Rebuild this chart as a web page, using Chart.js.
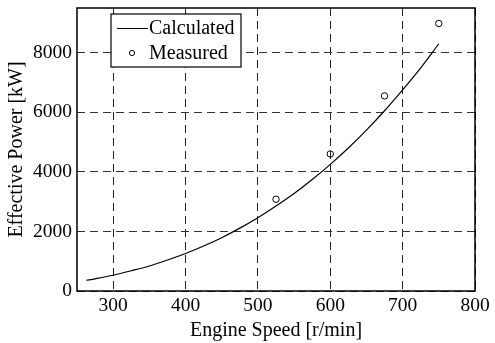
<!DOCTYPE html>
<html>
<head>
<meta charset="utf-8">
<script src="https://cdn.jsdelivr.net/npm/chart.js@4/dist/chart.umd.min.js"></script>
<style>
  html, body { margin: 0; padding: 0; background: #fff; }
  #wrap { width: 495px; height: 343px; }
</style>
</head>
<body>
<div id="wrap"><canvas id="powerChart"></canvas></div>
<script>
// engine speed [r/min] and calculated power [kW]
const calcSpeed = [263, 275, 300, 325, 350, 375, 400, 425, 450, 475, 500, 525, 550, 575, 600, 625, 650, 675, 700, 725, 750];
const calcPower = [360, 410, 530, 680, 840, 1040, 1260, 1510, 1790, 2110, 2460, 2850, 3270, 3740, 4250, 4800, 5400, 6050, 6750, 7490, 8300];

// measured points
const measSpeed = [525, 600, 675, 750];
const measPower = [3080, 4600, 6550, 8980];

const xTicks = [300, 400, 500, 600, 700, 800];
const yTicks = [0, 2000, 4000, 6000, 8000];

const serif = "'Liberation Serif', 'Times New Roman', serif";

// frame around plot + legend box inside the plot, like the original figure
const framePlugin = {
  id: 'frame',
  afterDraw(chart) {
    const { ctx, chartArea: a } = chart;
    ctx.save();
    ctx.strokeStyle = '#000';
    ctx.lineWidth = 1.5;
    ctx.strokeRect(a.left, a.top, a.right - a.left, a.bottom - a.top);

    // legend
    const bx = 111, by = 14, bw = 130, bh = 53;
    ctx.fillStyle = '#fff';
    ctx.fillRect(bx, by, bw, bh);
    ctx.lineWidth = 1.2;
    ctx.strokeRect(bx, by, bw, bh);
    ctx.font = '20px ' + serif;
    ctx.fillStyle = '#000';
    ctx.textBaseline = 'middle';
    const ds = chart.data.datasets;
    ctx.lineWidth = 1;
    ctx.beginPath();
    ctx.moveTo(117, 28.5);
    ctx.lineTo(148, 28.5);
    ctx.stroke();
    ctx.fillText(ds[0].label, 149, 29);
    ctx.beginPath();
    ctx.arc(132, 53, 2.6, 0, Math.PI * 2);
    ctx.stroke();
    ctx.fillText(ds[1].label, 149, 54);
    ctx.restore();
  }
};

new Chart(document.getElementById('powerChart').getContext('2d'), {
  type: 'scatter',
  data: {
    datasets: [
      {
        label: 'Calculated',
        data: calcSpeed.map((s, i) => ({ x: s, y: calcPower[i] })),
        showLine: true,
        borderColor: '#000',
        borderWidth: 1.2,
        tension: 0.3,
        pointRadius: 0,
      },
      {
        label: 'Measured',
        data: measSpeed.map((s, i) => ({ x: s, y: measPower[i] })),
        showLine: false,
        pointStyle: 'circle',
        pointRadius: 3.2,
        borderWidth: 1,
        borderColor: '#000',
        backgroundColor: 'rgba(0,0,0,0)',
      },
    ],
  },
  options: {
    responsive: true,
    maintainAspectRatio: false,
    animation: false,
    layout: { padding: { left: 0, right: 20, top: 8, bottom: 0 } },
    plugins: {
      legend: { display: false },
      tooltip: { enabled: false },
    },
    scales: {
      x: {
        type: 'linear',
        min: 250,
        max: 800,
        afterBuildTicks: (scale) => { scale.ticks = xTicks.map((v) => ({ value: v })); },
        afterFit: (scale) => { scale.height = 52; },
        grid: { color: '#222', lineWidth: 1, drawTicks: false },
        border: { display: false, dash: [8, 5] },
        ticks: {
          color: '#000', padding: 3, font: { family: serif, size: 19.5 },
          callback: (v) => String(v),
        },
        title: {
          display: true,
          text: 'Engine Speed [r/min]',
          color: '#000',
          padding: { top: 4, bottom: 0 },
          font: { family: serif, size: 20 },
        },
      },
      y: {
        type: 'linear',
        min: 0,
        max: 9500,
        afterBuildTicks: (scale) => { scale.ticks = yTicks.map((v) => ({ value: v })); },
        afterFit: (scale) => {
          scale.width = 77;
          scale.paddingTop = 0;
          scale.paddingBottom = 0;
        },
        grid: { color: '#333', lineWidth: 1, drawTicks: false },
        border: { display: false, dash: [8, 5] },
        ticks: {
          color: '#000', padding: 5, font: { family: serif, size: 19.5 },
          callback: (v) => String(v),
        },
        title: {
          display: true,
          text: 'Effective Power [kW]',
          color: '#000',
          padding: { top: 5, bottom: 0 },
          font: { family: serif, size: 20 },
        },
      },
    },
  },
  plugins: [framePlugin],
});
</script>
</body>
</html>
